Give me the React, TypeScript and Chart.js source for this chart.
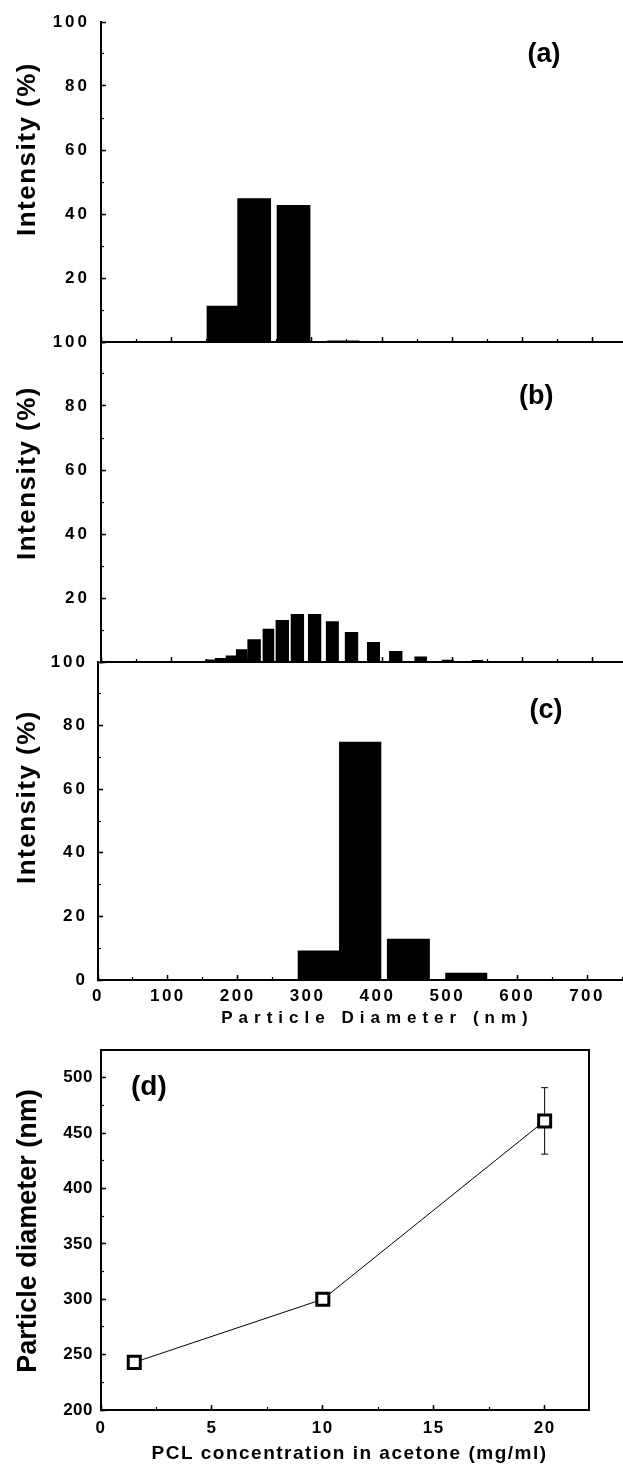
import React, { useEffect, useRef } from 'react';
import { Chart, registerables, LinearScale } from 'chart.js';

// ---------- data ----------
// (a) histogram bins (nm) and intensity (%)
const A_BIN_START = [150, 194, 250, 322];
const A_BIN_END = [194, 242, 298, 368];
const A_INTENSITY = [11.3, 44.9, 42.8, 0.5];

// (b)
const B_BIN_START = [148, 162, 177.5, 192, 208.5, 230, 248.5, 270, 294.5, 320, 347, 378.5, 410, 446, 485, 527.5];
const B_BIN_END = [162, 177.5, 192, 208, 227.5, 246.5, 267.5, 289, 313.5, 338.5, 366, 397, 429, 464, 502, 544];
const B_INTENSITY = [0.8, 1.25, 2.0, 4.0, 7.1, 10.4, 13.1, 15.0, 15.0, 12.7, 9.4, 6.25, 3.4, 1.7, 0.7, 0.6];

// (c)
const C_BIN_START = [285.5, 345, 413.5, 497];
const C_BIN_END = [345, 405.5, 475, 557.5];
const C_INTENSITY = [9.3, 74.9, 13.0, 2.3];

// (d) PCL concentration (mg/ml) vs particle diameter (nm)
const CONCENTRATION = [1.5, 10, 20];
const DIAMETER = [243, 300, 461];
const DIAMETER_ERR = [2, 3, 30];

// tick settings
const HIST_X_MAX = 750;
const HIST_X_STEP = 100;
const HIST_X_MINOR = 50;
const HIST_Y_STEP = 20;
const HIST_Y_MINOR = 10;

// ---------- helpers ----------
Chart.register(...registerables);

class SpacedLinearScale extends LinearScale {
  static id = 'spacedLinear';
  static defaults = {};
  drawTitle() {
    const o: any = this.options;
    const ctx: any = this.ctx;
    ctx.save();
    ctx.letterSpacing = (o.titleSpacing || 0) + 'px';
    ctx.translate(o.titleDx || 0, o.titleDy || 0);
    super.drawTitle();
    ctx.restore();
  }
  drawLabels(chartArea: any) {
    const o: any = this.options;
    const ctx: any = this.ctx;
    ctx.save();
    ctx.letterSpacing = (o.labelSpacing || 0) + 'px';
    super.drawLabels(chartArea);
    ctx.restore();
  }
}
Chart.register(SpacedLinearScale as any);

const FONT = "'Liberation Sans', Arial, Helvetica, sans-serif";
const bold = (size: number) => ({ family: FONT, size, weight: 'bold' as const, lineHeight: 1.2 });

const fixSize = (size: number) => (s: any) => {
  if (s.isHorizontal()) s.height = size; else s.width = size;
  s.paddingTop = 0; s.paddingBottom = 0; s.paddingLeft = 0; s.paddingRight = 0;
};

const BORDER = { display: true, color: '#000', width: 2 };
const MAJOR_GRID = { display: true, drawOnChartArea: false, drawTicks: true, tickLength: -5, tickColor: '#000', tickWidth: 1.5 };
const MINOR_GRID = { display: true, drawOnChartArea: false, drawTicks: true, tickLength: -3, tickColor: '#000', tickWidth: 1.2 };
const FRAME_GRID = { display: true, drawOnChartArea: false, drawTicks: false };

const histPoints = (starts: number[], ends: number[], vals: number[]) =>
  starts.flatMap((s, i) => [
    { x: s, y: 0 },
    { x: s, y: vals[i] },
    { x: ends[i], y: vals[i] },
    { x: ends[i], y: 0 },
  ]);

const panelLabelPlugin = {
  id: 'panelLabel',
  afterDatasetsDraw(chart: any, _args: any, opts: any) {
    if (!opts || !opts.text) return;
    const ctx = chart.ctx;
    const px = chart.scales.x.getPixelForValue(opts.x);
    const py = chart.scales.y.getPixelForValue(opts.y);
    ctx.save();
    ctx.font = opts.font;
    ctx.fillStyle = '#000';
    ctx.textAlign = 'center';
    ctx.textBaseline = 'middle';
    ctx.fillText(opts.text, px, py);
    ctx.restore();
  },
};

type Panel = {
  starts: number[]; ends: number[]; values: number[];
  tag: string; tagX: number; tagY: number;
  padding: { top: number; right: number; left: number; bottom: number };
  yWidth: number; xHeight: number; yTitleDy: number; yTickPad: number;
  xLabels: boolean; showZero: boolean;
};

function makeHistogram(canvas: HTMLCanvasElement, p: Panel) {
  return new Chart(canvas, {
    type: 'line',
    data: {
      datasets: [{
        data: histPoints(p.starts, p.ends, p.values),
        fill: 'origin',
        backgroundColor: '#000',
        borderColor: 'rgba(0,0,0,0)',
        borderWidth: 0,
        pointRadius: 0,
        pointHoverRadius: 0,
        tension: 0,
      }],
    },
    options: {
      animation: false,
      responsive: false,
      events: [],
      layout: { padding: p.padding },
      plugins: {
        legend: { display: false },
        tooltip: { enabled: false },
        panelLabel: { text: p.tag, x: p.tagX, y: p.tagY, font: `bold 27px ${FONT}` },
      } as any,
      scales: {
        x: {
          type: 'spacedLinear', axis: 'x', position: 'bottom', weight: 1,
          min: 0, max: HIST_X_MAX,
          ticks: { stepSize: HIST_X_STEP, includeBounds: false, autoSkip: false, display: p.xLabels, font: bold(17), color: '#000', padding: 11, maxRotation: 0, minRotation: 0, maxTicksLimit: 100 },
          labelSpacing: 2.5,
          grid: MAJOR_GRID, border: BORDER,
          title: p.xLabels
            ? { display: true, text: 'Particle Diameter (nm)', font: bold(17), color: '#000', padding: { top: 0, bottom: 6 } }
            : { display: false },
          titleSpacing: 6, titleDx: 17.5,
          afterFit: fixSize(p.xHeight),
        },
        xMinor: {
          type: 'linear', axis: 'x', position: 'bottom', weight: 0,
          min: 0, max: HIST_X_MAX,
          ticks: { stepSize: HIST_X_MINOR, display: false, autoSkip: false, maxTicksLimit: 100 },
          grid: MINOR_GRID, border: { display: false },
          afterFit: fixSize(0),
        },
        y: {
          type: 'spacedLinear', axis: 'y', position: 'left', weight: 1,
          min: 0, max: 100,
          ticks: {
            stepSize: HIST_Y_STEP, autoSkip: false, font: bold(17), color: '#000', padding: p.yTickPad,
            callback: (v: any) => (v === 0 && !p.showZero ? '' : String(v)),
          },
          labelSpacing: 3,
          grid: MAJOR_GRID, border: BORDER,
          title: { display: true, text: 'Intensity (%)', font: bold(26), color: '#000', padding: { top: 12.4, bottom: 0 } },
          titleSpacing: 1.5, titleDy: p.yTitleDy,
          afterFit: fixSize(p.yWidth),
        },
        yMinor: {
          type: 'linear', axis: 'y', position: 'left', weight: 0,
          min: 0, max: 100,
          ticks: { stepSize: HIST_Y_MINOR, display: false, autoSkip: false },
          grid: MINOR_GRID, border: { display: false },
          afterFit: fixSize(0),
        },
      } as any,
    },
    plugins: [panelLabelPlugin as any],
  });
}

function makeTrend(canvas: HTMLCanvasElement) {
  const main = {
    data: CONCENTRATION.map((c, i) => ({ x: c, y: DIAMETER[i] })),
    borderColor: '#000', borderWidth: 1, fill: false, tension: 0,
    pointStyle: 'rect', pointRadius: 8.5, pointBorderWidth: 3,
    pointBackgroundColor: '#fff', pointBorderColor: '#000', order: 0,
  };
  const errors = CONCENTRATION.map((c, i) => ({
    data: [{ x: c, y: DIAMETER[i] - DIAMETER_ERR[i] }, { x: c, y: DIAMETER[i] + DIAMETER_ERR[i] }],
    borderColor: '#000', borderWidth: 1, fill: false,
    pointStyle: 'line', pointRadius: 3.5, pointBorderWidth: 1, pointBorderColor: '#000',
    order: 1,
  }));
  return new Chart(canvas, {
    type: 'line',
    data: { datasets: [main, ...errors] as any },
    options: {
      animation: false,
      responsive: false,
      events: [],
      layout: { padding: { top: 14, right: 34, left: 0, bottom: 0 } },
      plugins: {
        legend: { display: false },
        tooltip: { enabled: false },
        panelLabel: { text: '(d)', x: 2.16, y: 491.5, font: `bold 28px ${FONT}` },
      } as any,
      scales: {
        x: {
          type: 'spacedLinear', axis: 'x', position: 'bottom', weight: 1,
          min: 0, max: 22,
          ticks: { stepSize: 5, includeBounds: false, autoSkip: false, font: bold(17), color: '#000', padding: 13, maxRotation: 0, minRotation: 0 },
          labelSpacing: 1.5,
          grid: MAJOR_GRID, border: BORDER,
          title: { display: true, text: 'PCL concentration in acetone (mg/ml)', font: bold(19), color: '#000', padding: { top: 0, bottom: 0.5 } },
          titleSpacing: 1.5, titleDx: 4.5,
          afterFit: fixSize(56),
        },
        xMinor: {
          type: 'linear', axis: 'x', position: 'bottom', weight: 0,
          min: 0, max: 22,
          ticks: { stepSize: 2.5, includeBounds: false, display: false, autoSkip: false },
          grid: MINOR_GRID, border: { display: false },
          afterFit: fixSize(0),
        },
        xTop: {
          type: 'linear', axis: 'x', position: 'top',
          min: 0, max: 22,
          ticks: { display: false },
          grid: FRAME_GRID, border: BORDER,
          afterFit: fixSize(0),
        },
        y: {
          type: 'spacedLinear', axis: 'y', position: 'left', weight: 1,
          min: 200, max: 525,
          ticks: { stepSize: 50, includeBounds: false, autoSkip: false, font: bold(17), color: '#000', padding: 13 },
          labelSpacing: 0.5,
          grid: MAJOR_GRID, border: BORDER,
          title: { display: true, text: 'Particle diameter (nm)', font: bold(27), color: '#000', padding: { top: 12.8, bottom: 0 } },
          titleSpacing: 0, titleDy: 1,
          afterFit: fixSize(101),
        },
        yMinor: {
          type: 'linear', axis: 'y', position: 'left', weight: 0,
          min: 200, max: 525,
          ticks: { stepSize: 25, display: false, autoSkip: false },
          grid: MINOR_GRID, border: { display: false },
          afterFit: fixSize(0),
        },
        yRight: {
          type: 'linear', axis: 'y', position: 'right',
          min: 200, max: 525,
          ticks: { display: false },
          grid: FRAME_GRID, border: BORDER,
          afterFit: fixSize(0),
        },
      } as any,
    },
    plugins: [panelLabelPlugin as any],
  });
}

export default function App() {
  const refA = useRef<HTMLCanvasElement>(null);
  const refB = useRef<HTMLCanvasElement>(null);
  const refC = useRef<HTMLCanvasElement>(null);
  const refD = useRef<HTMLCanvasElement>(null);

  useEffect(() => {
    const charts: Chart[] = [];
    charts.push(makeHistogram(refA.current!, {
      starts: A_BIN_START, ends: A_BIN_END, values: A_INTENSITY,
      tag: '(a)', tagX: 630.5, tagY: 89.8,
      padding: { top: 22, right: 2, left: 0, bottom: 0 },
      yWidth: 101, xHeight: 10, yTitleDy: -33, yTickPad: 16, xLabels: false, showZero: false,
    }));
    charts.push(makeHistogram(refB.current!, {
      starts: B_BIN_START, ends: B_BIN_END, values: B_INTENSITY,
      tag: '(b)', tagX: 619.5, tagY: 83.1,
      padding: { top: 12, right: 2, left: 0, bottom: 0 },
      yWidth: 101, xHeight: 10, yTitleDy: -29, yTickPad: 16, xLabels: false, showZero: false,
    }));
    charts.push(makeHistogram(refC.current!, {
      starts: C_BIN_START, ends: C_BIN_END, values: C_INTENSITY,
      tag: '(c)', tagX: 641.2, tagY: 84.6,
      padding: { top: 12, right: 1, left: 0, bottom: 0 },
      yWidth: 98, xHeight: 55, yTitleDy: -24, yTickPad: 15, xLabels: true, showZero: true,
    }));
    charts.push(makeTrend(refD.current!));
    return () => charts.forEach((c) => c.destroy());
  }, []);

  const abs = (top: number): React.CSSProperties => ({ position: 'absolute', left: 0, top });

  return (
    <div style={{ position: 'absolute', left: 0, top: 0, width: 623, height: 1466, overflow: 'hidden', background: '#fff' }}>
      <canvas ref={refA} width={630} height={352} style={abs(0)} />
      <canvas ref={refB} width={630} height={342} style={abs(330)} />
      <canvas ref={refC} width={623} height={385} style={abs(650)} />
      <canvas ref={refD} width={623} height={430} style={abs(1036)} />
    </div>
  );
}
